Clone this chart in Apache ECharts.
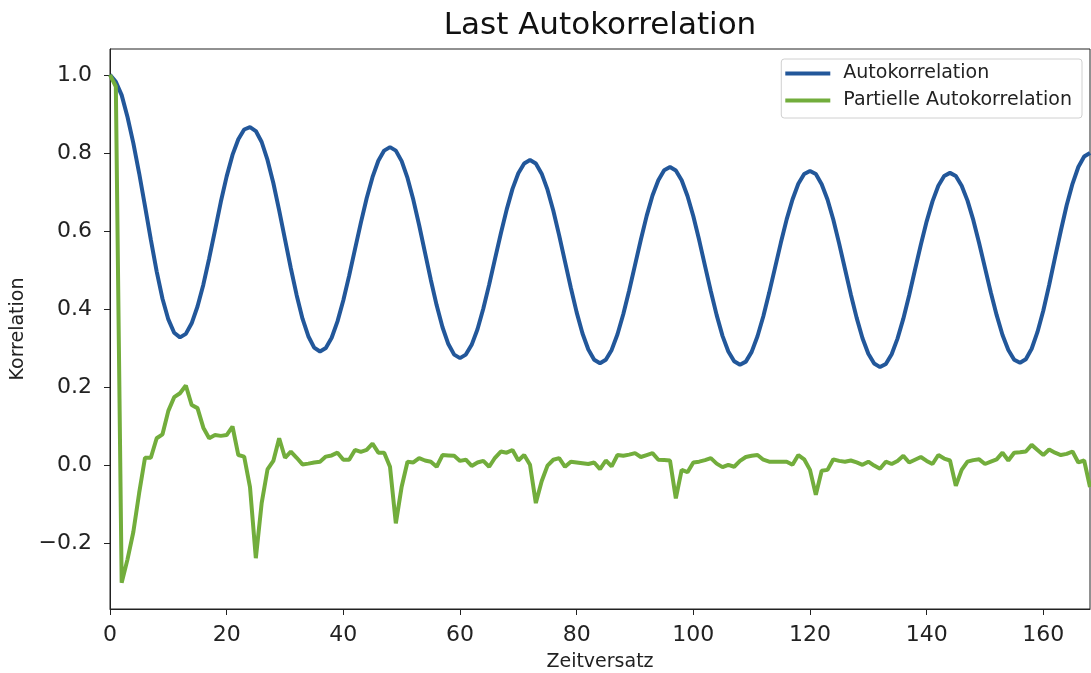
<!DOCTYPE html>
<html>
<head>
<meta charset="utf-8">
<title>Last Autokorrelation</title>
<script src="https://cdn.jsdelivr.net/npm/echarts@6/dist/echarts.min.js"></script>
<style>
html, body { margin: 0; padding: 0; background: #fff; }
#main { width: 1091px; height: 673px; }
</style>
</head>
<body>
<div id="main"></div>
<script>
// Autokorrelation, Lag 0..168
var acf = [
  1.000, 0.982, 0.948, 0.892, 0.825, 0.748, 0.664, 0.578, 0.497, 0.427, 0.374, 0.340, 0.328,
  0.337, 0.364, 0.407, 0.463, 0.530, 0.602, 0.675, 0.740, 0.795, 0.835, 0.860, 0.866,
  0.856, 0.828, 0.782, 0.723, 0.653, 0.579, 0.505, 0.436, 0.376, 0.331, 0.302, 0.292,
  0.301, 0.327, 0.369, 0.423, 0.486, 0.554, 0.621, 0.684, 0.738, 0.780, 0.806, 0.815,
  0.806, 0.779, 0.736, 0.680, 0.615, 0.545, 0.475, 0.410, 0.354, 0.311, 0.284, 0.275,
  0.284, 0.309, 0.349, 0.402, 0.463, 0.529, 0.594, 0.655, 0.708, 0.748, 0.773, 0.782,
  0.773, 0.747, 0.706, 0.652, 0.589, 0.522, 0.455, 0.392, 0.338, 0.297, 0.271, 0.262,
  0.271, 0.296, 0.336, 0.388, 0.448, 0.513, 0.578, 0.639, 0.691, 0.730, 0.756, 0.764,
  0.755, 0.730, 0.690, 0.638, 0.577, 0.511, 0.446, 0.385, 0.332, 0.292, 0.267, 0.258,
  0.266, 0.291, 0.331, 0.382, 0.442, 0.506, 0.570, 0.630, 0.681, 0.721, 0.746, 0.754,
  0.746, 0.720, 0.681, 0.629, 0.568, 0.503, 0.438, 0.378, 0.326, 0.286, 0.261, 0.252,
  0.260, 0.285, 0.325, 0.376, 0.436, 0.501, 0.565, 0.625, 0.676, 0.716, 0.741, 0.749,
  0.741, 0.716, 0.678, 0.628, 0.569, 0.506, 0.443, 0.385, 0.334, 0.296, 0.271, 0.263,
  0.272, 0.299, 0.342, 0.397, 0.462, 0.532, 0.601, 0.666, 0.721, 0.764, 0.791, 0.800
];

// Partielle Autokorrelation, Lag 0..168
var pacf = [
  1.000, 0.970, -0.300, -0.240, -0.170, -0.070, 0.020, 0.020, 0.070, 0.080, 0.140, 0.175, 0.185,
  0.205, 0.155, 0.147, 0.097, 0.070, 0.078, 0.076, 0.078, 0.100, 0.027, 0.023, -0.055,
  -0.237, -0.096, -0.010, 0.012, 0.070, 0.020, 0.036, 0.020, 0.003, 0.005, 0.008, 0.010,
  0.023, 0.026, 0.033, 0.015, 0.015, 0.040, 0.035, 0.040, 0.056, 0.033, 0.033, -0.003,
  -0.148, -0.054, 0.010, 0.008, 0.019, 0.013, 0.010, -0.003, 0.027, 0.026, 0.025, 0.012,
  0.015, -0.001, 0.008, 0.012, -0.003, 0.020, 0.036, 0.033, 0.040, 0.013, 0.027, 0.002,
  -0.096, -0.040, 0.000, 0.015, 0.019, -0.003, 0.010, 0.008, 0.006, 0.004, 0.008, -0.009,
  0.013, -0.002, 0.027, 0.025, 0.028, 0.032, 0.022, 0.027, 0.032, 0.015, 0.014, 0.013,
  -0.084, -0.011, -0.017, 0.008, 0.010, 0.014, 0.019, 0.005, -0.004, 0.002, -0.003, 0.012,
  0.022, 0.025, 0.027, 0.015, 0.010, 0.010, 0.010, 0.010, 0.002, 0.027, 0.016, -0.011,
  -0.075, -0.013, -0.011, 0.016, 0.012, 0.010, 0.013, 0.008, 0.002, 0.010, 0.000, -0.008,
  0.010, 0.004, 0.012, 0.025, 0.008, 0.015, 0.022, 0.012, 0.004, 0.027, 0.018, 0.013,
  -0.052, -0.011, 0.010, 0.014, 0.016, 0.004, 0.010, 0.016, 0.033, 0.013, 0.033, 0.034,
  0.036, 0.053, 0.040, 0.027, 0.041, 0.033, 0.027, 0.030, 0.036, 0.008, 0.013, -0.055
];

var xTicks = [0, 20, 40, 60, 80, 100, 120, 140, 160];
var yTicks = [-0.2, 0.0, 0.2, 0.4, 0.6, 0.8, 1.0];

var blau = '#22579a';
var gruen = '#72ad3c';
var schrift = 'DejaVu Sans';

function paare(werte) {
  return werte.map(function (v, i) { return [i, v]; });
}

var myChart = echarts.init(document.getElementById('main'));
var option = {
  animation: false,
  backgroundColor: '#fff',
  graphic: [{
    type: 'text',
    style: {
      text: 'Last Autokorrelation',
      x: 600, y: 26,
      textAlign: 'center', textVerticalAlign: 'middle',
      font: '31px "DejaVu Sans"', fill: '#111'
    }
  }],
  legend: {
    orient: 'vertical',
    right: 9, top: 59,
    padding: [5, 10, 8, 4],
    itemGap: 8,
    itemWidth: 45, itemHeight: 4,
    icon: 'rect',
    borderColor: '#d0d0d0', borderWidth: 1, borderRadius: 3,
    backgroundColor: '#fff',
    textStyle: { fontFamily: schrift, fontSize: 19, color: '#222', padding: [0, 0, 0, 8] },
    data: ['Autokorrelation', 'Partielle Autokorrelation']
  },
  grid: {
    left: 110, right: 1, top: 49, bottom: 64,
    outerBoundsMode: 'none',
    show: true, borderColor: '#222', borderWidth: 1
  },
  xAxis: {
    type: 'value', min: 0, max: 168,
    name: 'Zeitversatz', nameLocation: 'middle', nameGap: 44,
    nameTextStyle: { fontFamily: schrift, fontSize: 19, color: '#222' },
    axisLine: { show: true, onZero: false, lineStyle: { color: '#222' } },
    axisTick: { show: true, length: 6, lineStyle: { color: '#222' }, customValues: xTicks },
    axisLabel: { fontFamily: schrift, fontSize: 22, color: '#222', margin: 15, customValues: xTicks },
    splitLine: { show: false }
  },
  yAxis: {
    type: 'value', min: -0.367, max: 1.066,
    name: 'Korrelation', nameLocation: 'middle', nameGap: 80, nameRotate: 90,
    nameTextStyle: { fontFamily: schrift, fontSize: 19, color: '#222' },
    axisLine: { show: true, onZero: false, lineStyle: { color: '#222' } },
    axisTick: { show: true, length: 6, lineStyle: { color: '#222' }, customValues: yTicks },
    axisLabel: {
      fontFamily: schrift, fontSize: 22, color: '#222', margin: 18, customValues: yTicks,
      formatter: function (v) {
        return (v < 0 ? '\u2212' : '') + Math.abs(v).toFixed(1);
      }
    },
    splitLine: { show: false }
  },
  series: [
    {
      name: 'Autokorrelation', type: 'line', data: paare(acf),
      showSymbol: false, color: blau,
      lineStyle: { width: 4, color: blau }
    },
    {
      name: 'Partielle Autokorrelation', type: 'line', data: paare(pacf),
      showSymbol: false, color: gruen,
      lineStyle: { width: 4, color: gruen }
    }
  ]
};
myChart.setOption(option);
</script>
</body>
</html>
